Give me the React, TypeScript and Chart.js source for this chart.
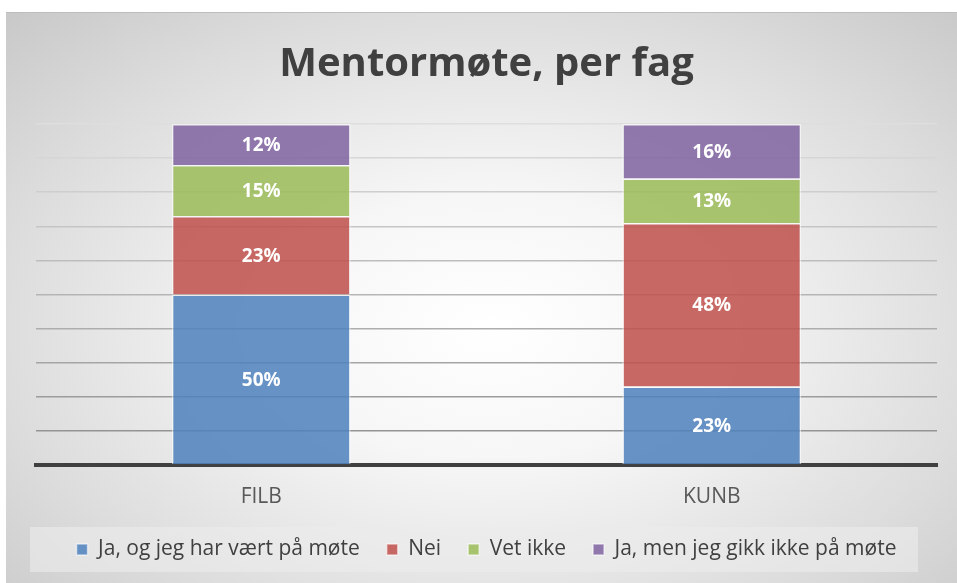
import React, { useEffect, useRef } from "react";
import { Chart, registerables } from "chart.js";

Chart.register(...registerables);

const chartTitle = "Mentormøte, per fag";
const categories = ["FILB", "KUNB"];
const seriesNames = [
  "Ja, og jeg har vært på møte",
  "Nei",
  "Vet ikke",
  "Ja, men jeg gikk ikke på møte",
];
const jaVaertPaaMote = [50, 23];
const nei = [23, 48];
const vetIkke = [15, 13];
const jaMenIkkeMote = [12, 16];
const yTicks = [0, 10, 20, 30, 40, 50, 60, 70, 80, 90, 100];

const seriesColors = [
  "rgba(79,129,189,0.86)",
  "rgba(192,80,77,0.86)",
  "rgba(155,187,89,0.86)",
  "rgba(128,100,162,0.86)",
];

const FONT = "'Open Sans', Lato, sans-serif";

const legendBg = {
  id: "legendBg",
  beforeDraw(chart: any) {
    const lg = chart.legend;
    if (!lg || !lg.legendHitBoxes || !lg.legendHitBoxes.length) return;
    const hb = lg.legendHitBoxes[0];
    const cy = hb.top + hb.height / 2;
    const ctx = chart.ctx;
    ctx.save();
    ctx.fillStyle = "rgba(236,236,236,0.62)";
    ctx.fillRect(24, cy - 22.5, chart.width - 24 - 39, 45);
    ctx.restore();
  },
};

const dataLabels = {
  id: "dataLabels",
  afterDatasetsDraw(chart: any) {
    const ctx = chart.ctx;
    ctx.save();
    ctx.fillStyle = "#ffffff";
    ctx.font = `bold 19px ${FONT}`;
    ctx.textAlign = "center";
    ctx.textBaseline = "middle";
    chart.data.datasets.forEach((ds: any, i: number) => {
      const meta = chart.getDatasetMeta(i);
      meta.data.forEach((bar: any, j: number) => {
        const v = ds.data[j];
        const y = (bar.y + bar.base) / 2;
        ctx.fillText(`${v}%`, bar.x, y + 1);
      });
    });
    ctx.restore();
  },
};

function gridColor(value: number) {
  const t = value / 100;
  const c = Math.round(140 + (222 - 140) * t);
  return `rgb(${c},${c},${c})`;
}

export default function App() {
  const ref = useRef<HTMLCanvasElement>(null);

  useEffect(() => {
    const seriesValues = [jaVaertPaaMote, nei, vetIkke, jaMenIkkeMote];
    const chart = new Chart(ref.current as HTMLCanvasElement, {
      type: "bar",
      data: {
        labels: categories,
        datasets: seriesNames.map((name, i) => ({
          label: name,
          data: seriesValues[i],
          backgroundColor: seriesColors[i],
          borderColor: "rgba(255,255,255,0.55)",
          borderWidth: 1.5,
          categoryPercentage: 1,
          barPercentage: 0.397,
        })),
      },
      options: {
        responsive: false,
        animation: false,
        layout: { padding: { left: 30, right: 20, top: 0, bottom: 13 } },
        plugins: {
          title: {
            display: true,
            text: chartTitle,
            color: "#404040",
            font: { family: FONT, size: 40, weight: "bold" },
            padding: { top: 28, bottom: 35 },
          },
          legend: {
            position: "bottom",
            labels: {
              color: "#404040",
              font: { family: FONT, size: 21 },
              boxWidth: 11,
              boxHeight: 11,
              padding: 27,
            },
          },
          tooltip: { enabled: false },
        },
        scales: {
          x: {
            stacked: true,
            grid: { display: false, drawTicks: false },
            border: { display: true, color: "#404040", width: 4 },
            ticks: {
              color: "#595959",
              font: { family: FONT, size: 21 },
              padding: 19,
            },
            afterFit: (s: any) => {
              s.height = 47;
            },
          },
          y: {
            stacked: true,
            min: 0,
            max: 100,
            afterBuildTicks: (s: any) => {
              s.ticks = yTicks.map((v) => ({ value: v }));
            },
            ticks: { display: false },
            border: { display: false },
            grid: {
              drawTicks: false,
              lineWidth: 1.5,
              color: (ctx: any) => gridColor(ctx.tick ? ctx.tick.value : 0),
            },
          },
        },
      },
      plugins: [legendBg, dataLabels],
    } as any);
    return () => chart.destroy();
  }, []);

  return (
    <div
      style={{
        position: "fixed",
        left: 0,
        top: 0,
        width: 957,
        height: 583,
        background: "#ffffff",
        overflow: "hidden",
      }}
    >
      <div
        style={{
          position: "absolute",
          left: 6,
          top: 12,
          width: 951,
          height: 571,
          boxSizing: "border-box",
          borderTop: "1px solid #bdbdbd",
          background:
            "radial-gradient(ellipse 75% 80% at 51% 55%, #ffffff 0%, #f6f6f6 30%, #dcdcdc 70%, #c6c6c6 100%)",
        }}
      >
        <canvas ref={ref} width={951} height={570} style={{ display: "block" }} />
      </div>
    </div>
  );
}
